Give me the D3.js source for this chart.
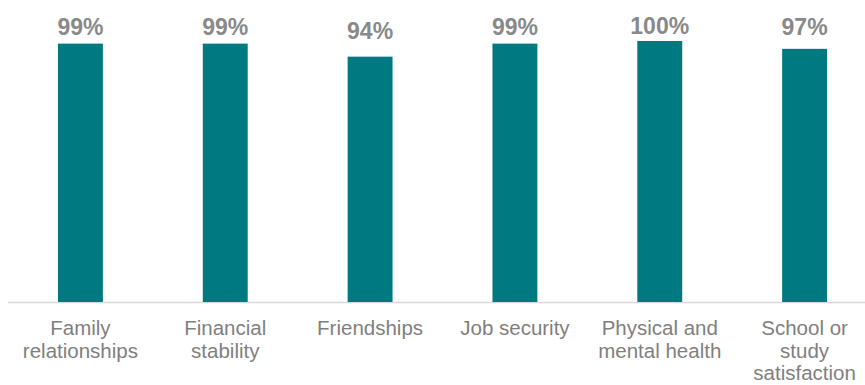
<!DOCTYPE html>
<html>
<head>
<meta charset="utf-8">
<script src="https://cdn.jsdelivr.net/npm/d3@7"></script>
<style>
  body { margin: 0; background: #fff; }
  svg { display: block; font-family: "Liberation Sans", Arial, sans-serif; }
</style>
</head>
<body>
<div id="chart"></div>
<script>
const categories = [
    ["Family", "relationships"],
    ["Financial", "stability"],
    ["Friendships"],
    ["Job security"],
    ["Physical and", "mental health"],
    ["School or", "study", "satisfaction"]
];
const values = [99, 99, 94, 99, 100, 97];

const width = 865;
const height = 385;
const baseline = 302;

const svg = d3.select("#chart")
              .append("svg")
              .attr("width", width)
              .attr("height", height);

const x = d3.scaleBand()
            .domain(d3.range(categories.length))
            .range([8, 877])
            .paddingInner(0.69)
            .paddingOuter(0.345);

const y = d3.scaleLinear()
            .domain([0, 100])
            .range([baseline, 41]);

svg.append("line")
   .attr("x1", 8)
   .attr("x2", width)
   .attr("y1", baseline + 0.5)
   .attr("y2", baseline + 0.5)
   .attr("stroke", "#d9d9d9")
   .attr("stroke-width", 1.5);

svg.selectAll("rect.bar")
   .data(values)
   .enter()
   .append("rect")
   .attr("class", "bar")
   .attr("x", (d, i) => x(i))
   .attr("width", x.bandwidth())
   .attr("y", d => y(d))
   .attr("height", d => baseline - y(d))
   .attr("fill", "#007a80");

// value labels sit in a row just above the tallest bar
svg.selectAll("text.value")
   .data(values)
   .enter()
   .append("text")
   .attr("class", "value")
   .attr("x", (d, i) => x(i) + x.bandwidth() / 2)
   .attr("y", d => Math.min(y(d) - 7, y(d3.max(values)) - 6) + (d < 95 ? 4 : 0))
   .attr("text-anchor", "middle")
   .attr("font-size", "23px")
   .attr("font-weight", "bold")
   .attr("fill", "#898989")
   .text(d => d + "%");

const labels = svg.selectAll("text.cat")
   .data(categories)
   .enter()
   .append("text")
   .attr("class", "cat")
   .attr("text-anchor", "middle")
   .attr("font-size", "20.5px")
   .attr("fill", "#7f7f7f")
   .attr("transform", (d, i) => `translate(${x(i) + x.bandwidth() / 2},335)`);

labels.selectAll("tspan")
   .data(d => d)
   .enter()
   .append("tspan")
   .attr("x", 0)
   .attr("y", (d, i) => i * 22.7)
   .text(d => d);
</script>
</body>
</html>
